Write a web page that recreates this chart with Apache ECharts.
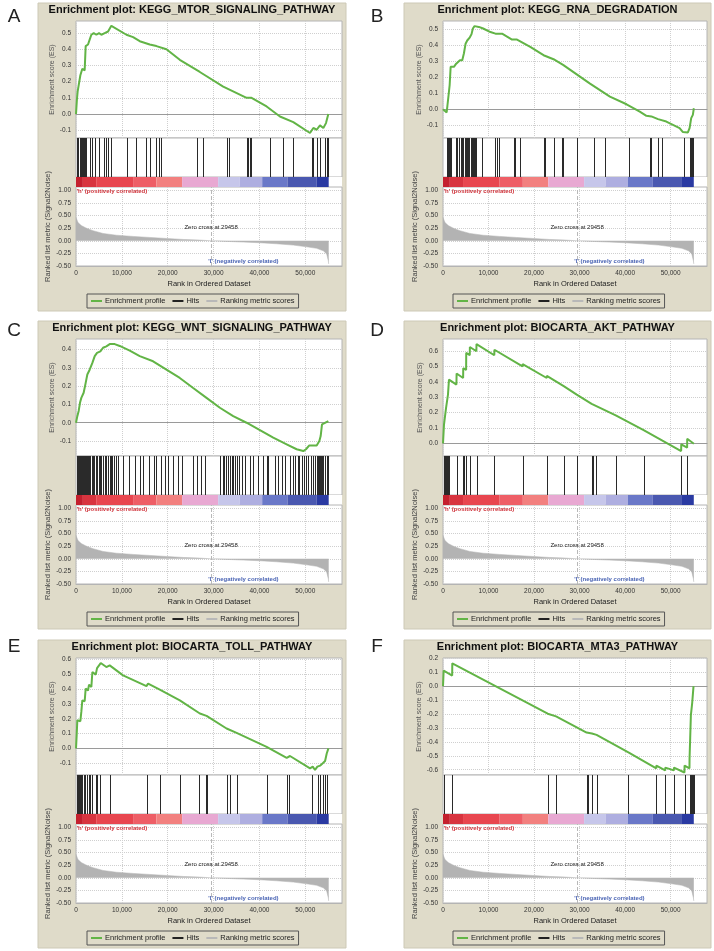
<!DOCTYPE html>
<html><head><meta charset="utf-8">
<script src="https://cdn.jsdelivr.net/npm/echarts@6/dist/echarts.min.js"></script>
<style>html,body{margin:0;padding:0;background:#fff}#c{width:714px;height:951px}</style>
</head><body><div id="c"></div>
<script>
// ---------- DATA ----------
const panelLetters = ['A','B','C','D','E','F'];
const panelTitles = [
  'Enrichment plot: KEGG_MTOR_SIGNALING_PATHWAY',
  'Enrichment plot: KEGG_RNA_DEGRADATION',
  'Enrichment plot: KEGG_WNT_SIGNALING_PATHWAY',
  'Enrichment plot: BIOCARTA_AKT_PATHWAY',
  'Enrichment plot: BIOCARTA_TOLL_PATHWAY',
  'Enrichment plot: BIOCARTA_MTA3_PATHWAY'
];
const rankTicks = [0, 10000, 20000, 30000, 40000, 50000];
const metricTicks = [-0.5, -0.25, 0, 0.25, 0.5, 0.75, 1.0];
const zeroCross = 29458;

const esRangeA = [-0.148, 0.575], esTicksA = [-0.1, 0, 0.1, 0.2, 0.3, 0.4, 0.5];
const esRangeB = [-0.18, 0.552],  esTicksB = [-0.1, 0, 0.1, 0.2, 0.3, 0.4, 0.5];
const esRangeC = [-0.182, 0.458], esTicksC = [-0.1, 0, 0.1, 0.2, 0.3, 0.4];
const esRangeD = [-0.082, 0.68],  esTicksD = [0, 0.1, 0.2, 0.3, 0.4, 0.5, 0.6];
const esRangeE = [-0.179, 0.609], esTicksE = [-0.1, 0, 0.1, 0.2, 0.3, 0.4, 0.5, 0.6];
const esRangeF = [-0.638, 0.202], esTicksF = [-0.6, -0.5, -0.4, -0.3, -0.2, -0.1, 0, 0.1, 0.2];

const esA = [[0,0],[200,0.09],[360,0.14],[650,0.14],[950,0.24],[1240,0.25],[1380,0.28],[1890,0.27],[2110,0.42],[2620,0.43],[2980,0.46],[3350,0.49],[3860,0.50],[4440,0.49],[5020,0.50],[5530,0.49],[6260,0.50],[6990,0.51],[7350,0.52],[7710,0.545],[11000,0.49],[12450,0.475],[13900,0.45],[16080,0.43],[17540,0.42],[19720,0.40],[22630,0.335],[27000,0.26],[32100,0.17],[37200,0.10],[38280,0.10],[41560,0.047],[44470,-0.015],[47380,-0.05],[51020,-0.117],[51750,-0.086],[52480,-0.097],[53200,-0.07],[53930,-0.086],[54510,-0.056],[55020,0.0]];
const esB = [[0,0],[360,-0.01],[800,-0.02],[950,0.017],[1240,0.027],[1460,0.15],[1680,0.265],[1900,0.275],[2400,0.265],[2900,0.285],[3280,0.275],[3720,0.307],[4230,0.307],[4600,0.35],[4960,0.41],[5320,0.43],[5900,0.45],[6270,0.47],[6560,0.505],[6930,0.52],[7870,0.515],[8820,0.505],[10420,0.483],[11520,0.473],[12980,0.473],[15160,0.436],[16260,0.436],[19170,0.39],[22090,0.338],[24280,0.313],[26460,0.276],[32300,0.16],[36670,0.079],[40320,0.031],[43230,-0.015],[44690,-0.041],[45780,-0.045],[47240,-0.062],[49060,-0.077],[51980,-0.118],[52710,-0.143],[53070,-0.135],[53800,-0.145],[54170,-0.118],[54530,-0.056],[54890,-0.035],[55110,0.006]];
const esC = [[0,0],[290,0.036],[580,0.064],[870,0.109],[1160,0.136],[1670,0.164],[2110,0.218],[2470,0.264],[2980,0.29],[3570,0.327],[4080,0.364],[4590,0.382],[5310,0.39],[5900,0.41],[6620,0.418],[7350,0.43],[8440,0.43],[9530,0.42],[11720,0.394],[13900,0.364],[16810,0.336],[19720,0.29],[22630,0.245],[25550,0.19],[28460,0.136],[31370,0.082],[34280,0.036],[37190,0.0],[40100,-0.04],[43010,-0.082],[45930,-0.118],[48110,-0.145],[49560,-0.155],[50150,-0.145],[50870,-0.124],[51750,-0.124],[52480,-0.124],[53060,-0.1],[53350,-0.073],[53640,-0.009],[54080,-0.004],[54510,0.0],[55020,0.009]];
const esD = [[0,0],[219,0.123],[600,0.115],[656,0.228],[948,0.222],[1094,0.318],[1312,0.415],[2950,0.383],[2989,0.455],[4420,0.426],[4447,0.49],[5080,0.478],[5103,0.59],[5880,0.575],[5905,0.628],[7330,0.600],[7363,0.647],[11270,0.574],[11300,0.61],[17470,0.502],[17496,0.517],[22790,0.426],[22818,0.44],[26609,0.372],[29379,0.318],[32659,0.258],[33023,0.264],[37950,0.182],[37981,0.19],[44080,0.087],[44105,0.1],[52320,-0.05],[52342,-0.006],[53630,-0.028],[53654,0.03],[55110,-0.002]];
const esE = [[0,0],[150,0.09],[290,0.19],[580,0.197],[950,0.183],[1160,0.246],[1380,0.324],[1890,0.318],[2110,0.403],[2620,0.39],[2840,0.43],[3350,0.414],[3570,0.515],[4300,0.497],[4590,0.541],[5020,0.537],[5390,0.575],[6620,0.548],[7350,0.559],[10260,0.492],[15360,0.42],[15720,0.436],[18270,0.396],[22640,0.324],[27010,0.235],[28470,0.219],[32830,0.134],[35020,0.105],[41570,0.011],[45940,-0.063],[46660,-0.051],[51030,-0.134],[51620,-0.123],[52120,-0.145],[52630,-0.123],[53220,-0.116],[53800,-0.1],[54310,-0.085],[54670,-0.034],[55040,0.0]];
const esF = [[0,0],[146,0.112],[2020,0.076],[2041,0.164],[23010,-0.198],[23036,-0.19],[24840,-0.217],[24859,-0.21],[31550,-0.333],[31566,-0.326],[31770,-0.33],[31784,-0.323],[32720,-0.34],[32732,-0.333],[33740,-0.35],[33753,-0.343],[40730,-0.476],[40751,-0.467],[46860,-0.59],[46875,-0.57],[48830,-0.605],[48843,-0.585],[50720,-0.605],[50738,-0.585],[53050,-0.62],[53071,-0.57],[54150,-0.59],[54165,-0.52],[54300,-0.52],[54311,-0.37],[54450,-0.37],[54456,-0.21],[54740,-0.21],[54748,-0.12],[55030,-0.12],[55040,0.0]];

const hitsA = [218,510,800,1020,1240,1460,1670,1890,2260,2980,3570,4080,5020,6040,6620,7060,7570,11140,13030,15210,16080,17540,18120,18630,26280,27590,32830,33410,37200,37570,37930,38080,42300,45070,47400,51400,51760,52490,53220,54310,54670,55040];
const hitsB = [950,1090,1240,1390,1530,1680,2840,3130,3500,3860,4080,4450,4740,4960,5320,5540,5760,6050,6270,6490,6780,6930,7220,8600,11520,11880,12250,15530,15890,16990,22090,22450,24280,26100,26460,29380,33170,35580,40900,45420,45780,47240,48190,52850,54160,54380,54600,54890];
const hitsC = [218,437,655,801,1019,1238,1529,1747,1966,2257,2402,2621,2839,3130,3422,3713,3931,4295,4586,4950,5169,5533,5897,6334,6625,6989,7353,7571,7935,8299,8809,9173,10265,11502,12813,13905,14633,15943,16962,17545,18637,19365,20093,21185,22277,23005,25407,26281,27154,28101,31377,31959,32250,32687,33197,33561,33925,34289,34726,35162,35599,36109,36837,37929,38657,39749,40841,41569,41933,43462,44117,44845,45573,46665,47247,47757,48339,48703,49213,49722,50159,50669,51178,51761,52125,52489,52707,52998,53217,53435,53654,53945,54309,54673,54964];
const hitsD = [219,365,510,656,802,948,1094,1312,2989,4447,4593,5103,5905,7363,11300,17496,22818,26609,29379,32659,32878,33023,33607,37981,44105,52342,53654];
const hitsE = [146,364,655,874,1165,1383,1674,2038,2402,2839,3130,3422,4441,4659,5169,7353,15579,18418,22641,26863,28246,28465,32833,33561,35162,41569,45937,46519,51542,52853,53217,53945,54309,54673];
const hitsF = [146,2041,23036,24859,31566,31784,32732,33753,40751,46875,48843,50738,53071,54165,54311,54456,54602,54748,54894,55040];

const metricScores = [[0,0.46],[440,0.36],[1160,0.30],[2260,0.25],[3710,0.20],[5900,0.145],[8800,0.11],[12450,0.086],[16090,0.066],[19730,0.046],[23370,0.026],[27010,0.013],[29458,0],[32830,-0.013],[36470,-0.026],[40100,-0.04],[43740,-0.06],[47380,-0.086],[50290,-0.12],[52480,-0.15],[53930,-0.2],[54660,-0.26],[55020,-0.40],[55100,-0.46]];
const colorBarEdges = [0,1500,4400,12450,17540,23140,31000,35700,40600,46100,52500,55100];

// ---------- STYLE / LAYOUT ----------
const barColors = ['#c4202e','#d8343f','#e8464f','#ee5e66','#f2807f','#e8a8d2','#c6c6ea','#aeaee0','#6a78c8','#4a58b0','#2a3aa2'];
const GREEN = '#62b446';
const FONT = 'Liberation Sans, Arial, sans-serif';
const cols = [
  {left:76, width:266, boxLeft:38, boxWidth:308, center:192, legendLeft:87, letterX:14},
  {left:443, width:264, boxLeft:404, boxWidth:307, center:557.5, legendLeft:453, letterX:377}
];
const rowsY = [0, 318, 637];
const letterY = [17, 331, 647];

const esSets = [esA, esB, esC, esD, esE, esF];
const esRanges = [esRangeA, esRangeB, esRangeC, esRangeD, esRangeE, esRangeF];
const esTicks = [esTicksA, esTicksB, esTicksC, esTicksD, esTicksE, esTicksF];
const hitSets = [hitsA, hitsB, hitsC, hitsD, hitsE, hitsF];

const grid = [], xAxis = [], yAxis = [], series = [], title = [], legend = [], elements = [];
const dotted = {show:true, lineStyle:{type:'dotted', color:'#cfcfcf', width:1}};
const fmtRank = v => v.toLocaleString('en-US');

for (let i = 0; i < 6; i++) {
  const c = cols[i % 2], r = rowsY[Math.floor(i / 2)];
  const b = i * 4;
  elements.push({type:'rect', z:-10, shape:{x:c.boxLeft, y:r+3, width:c.boxWidth, height:308}, style:{fill:'#dfdbc9', stroke:'#cdc9b6'}});
  elements.push({type:'text', z:5, style:{text:panelLetters[i], x:c.letterX, y:letterY[Math.floor(i/2)], fontSize:19, fontFamily:FONT, fill:'#222', align:'center', verticalAlign:'middle'}});
  title.push({text:panelTitles[i], left:c.center, top:r+4.5, textAlign:'center', padding:0,
    textStyle:{fontSize:11, fontWeight:'bold', color:'#111', fontFamily:FONT}});
  const gcommon = {left:c.left, width:c.width, show:true, backgroundColor:'#fff', borderColor:'#b4b4b4', borderWidth:1};
  grid.push(Object.assign({top:r+21, height:117}, gcommon));
  grid.push(Object.assign({top:r+138, height:39}, gcommon));
  grid.push(Object.assign({top:r+177, height:10}, gcommon, {borderWidth:0}));
  grid.push(Object.assign({top:r+187, height:79}, gcommon));

  // ES axes
  xAxis.push({type:'value', gridIndex:b, min:0, max:58000,
    axisLabel:{show:false, customValues:rankTicks}, axisTick:{show:false, customValues:rankTicks},
    axisLine:{show:true, onZero:true, lineStyle:{color:'#9a9a9a', width:1}}, splitLine:dotted});
  yAxis.push({type:'value', gridIndex:b, min:esRanges[i][0], max:esRanges[i][1],
    axisLine:{show:false}, axisTick:{show:false, customValues:esTicks[i]},
    axisLabel:{customValues:esTicks[i], formatter:v=>v.toFixed(1), fontSize:6.5, color:'#333', margin:5, fontFamily:FONT},
    splitLine:dotted, name:'Enrichment score (ES)', nameLocation:'middle', nameGap:19,
    nameTextStyle:{fontSize:7, color:'#555', fontFamily:FONT}});
  // hits axes
  xAxis.push({type:'value', gridIndex:b+1, min:0, max:58000, show:false});
  yAxis.push({type:'value', gridIndex:b+1, min:0, max:1, show:false});
  // color bar axes
  xAxis.push({type:'value', gridIndex:b+2, min:0, max:58000, show:false});
  yAxis.push({type:'value', gridIndex:b+2, min:0, max:1, show:false});
  // metric axes
  xAxis.push({type:'value', gridIndex:b+3, min:0, max:58000,
    axisLine:{show:true, onZero:false, lineStyle:{color:'#b4b4b4'}}, axisTick:{show:false, customValues:rankTicks},
    axisLabel:{customValues:rankTicks, formatter:fmtRank, fontSize:6.5, color:'#333', margin:4, fontFamily:FONT},
    splitLine:dotted, name:'Rank in Ordered Dataset', nameLocation:'middle', nameGap:14,
    nameTextStyle:{fontSize:7.5, color:'#222', fontFamily:FONT}});
  yAxis.push({type:'value', gridIndex:b+3, min:-0.5, max:1.065,
    axisLine:{show:false}, axisTick:{show:false, customValues:metricTicks},
    axisLabel:{customValues:metricTicks, formatter:v=>v.toFixed(2), fontSize:6.5, color:'#333', margin:5, fontFamily:FONT},
    splitLine:dotted, name:'Ranked list metric (Signal2Noise)', nameLocation:'middle', nameGap:22,
    nameTextStyle:{fontSize:7.5, color:'#444', fontFamily:FONT}});

  series.push({name:'Enrichment profile', type:'line', xAxisIndex:b, yAxisIndex:b, data:esSets[i],
    showSymbol:false, symbol:'none', lineStyle:{color:GREEN, width:2}, itemStyle:{color:GREEN}, z:5, silent:true});
  series.push({name:'Hits', type:'custom', xAxisIndex:b+1, yAxisIndex:b+1, data:hitSets[i].map(v=>[v]),
    encode:{x:0}, silent:true, itemStyle:{color:'#000'},
    renderItem:(params, api) => {
      const p1 = api.coord([api.value(0), 0]), p2 = api.coord([api.value(0), 1]);
      const x = Math.round(p1[0]) + 0.5;
      return {type:'line', shape:{x1:x, y1:p1[1], x2:x, y2:p2[1]}, style:{stroke:'#2a2a2a', lineWidth:1}};
    }});
  series.push({name:'colorbar', type:'custom', xAxisIndex:b+2, yAxisIndex:b+2, silent:true,
    data:colorBarEdges.slice(0,-1).map((e,k)=>[e, colorBarEdges[k+1], k]), encode:{x:[0,1]},
    renderItem:(params, api) => {
      const a = api.coord([api.value(0), 1]), q = api.coord([api.value(1), 0]);
      return {type:'rect', shape:{x:a[0], y:a[1], width:q[0]-a[0], height:q[1]-a[1]}, style:{fill:barColors[api.value(2)]}};
    }});
  series.push({name:'Ranking metric scores', type:'line', xAxisIndex:b+3, yAxisIndex:b+3, data:metricScores,
    showSymbol:false, symbol:'none', lineStyle:{color:'#b3b3b3', width:0.5}, itemStyle:{color:'#bbbbbb'},
    areaStyle:{color:'#b3b3b3', opacity:1}, silent:true,
    markLine:{silent:true, symbol:'none', label:{show:false}, lineStyle:{type:'dashed', color:'#b8b8b8', width:1},
      data:[{xAxis:zeroCross}]},
    markPoint:{silent:true, symbol:'circle', symbolSize:0, data:[
      {coord:[150, 0.975], label:{show:true, position:'right', distance:0, formatter:"'h' (positively correlated)", fontSize:6, fontWeight:'bold', color:'#d0343c', fontFamily:FONT}},
      {coord:[zeroCross, 0.26], label:{show:true, position:'inside', formatter:'Zero cross at ' + zeroCross, fontSize:6, color:'#222', fontFamily:FONT}},
      {coord:[zeroCross - 600, -0.40], label:{show:true, position:'right', distance:0, formatter:"'l' (negatively correlated)", fontSize:6, fontWeight:'bold', color:'#4a64b4', fontFamily:FONT}}
    ]}});

  legend.push({left:c.legendLeft, top:r+294, orient:'horizontal', selectedMode:false,
    borderColor:'#555', borderWidth:1, padding:[3,4,3,4], itemGap:7, itemWidth:11, itemHeight:2,
    textStyle:{fontSize:7.5, color:'#222', fontFamily:FONT, padding:[0,0,0,-2]},
    data:[{name:'Enrichment profile', icon:'rect', itemStyle:{color:GREEN}},
          {name:'Hits', icon:'rect', itemStyle:{color:'#222'}},
          {name:'Ranking metric scores', icon:'rect', itemStyle:{color:'#b8b8b8', opacity:1}}]});
}

const chart = echarts.init(document.getElementById('c'), null, {renderer:'canvas'});
chart.setOption({animation:false, textStyle:{fontFamily:FONT}, title, legend, grid, xAxis, yAxis, series,
  graphic:{elements}});
</script></body></html>
